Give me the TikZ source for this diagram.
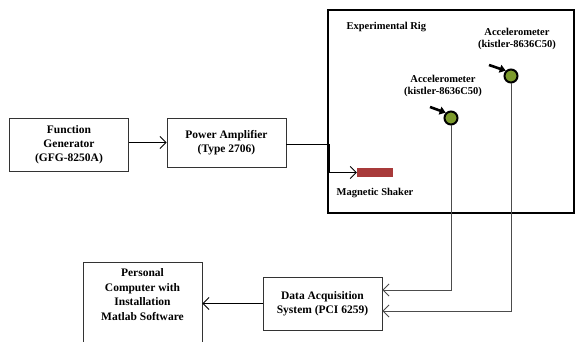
\documentclass[tikz,border=0pt]{standalone}
\usepackage{fontspec}
\setmainfont{Liberation Serif}
\usepackage{xcolor}
\usetikzlibrary{arrows.meta,positioning}

\definecolor{shakerred}{HTML}{A83A3A}
\definecolor{sensorgreen}{HTML}{7D9B2D}

\begin{document}
\begin{tikzpicture}[
  x=1pt, y=1pt,
  box/.style={rectangle, draw=black!80, line width=0.9pt, minimum width=119pt, align=center, font=\bfseries\fontsize{11.5}{14}\selectfont},
  lbl/.style={align=center, font=\bfseries\fontsize{10.5}{12.5}\selectfont},
  arr/.style={-{Straight Barb[length=6pt, width=12pt]}, line width=0.8pt},
  sensor/.style={circle, draw=black, line width=2pt, fill=sensorgreen, minimum size=13pt, inner sep=0pt},
  pointer/.style={-{Triangle[length=6pt, width=8pt]}, line width=2.6pt},
]
  \useasboundingbox (0,0) rectangle (576,342);
  \node[box, minimum height=53pt] (fgen) at (69,197.5) {Function\\Generator\\(GFG-8250A)};
  \node[box, minimum height=49pt] (amp) at (226.5,199.5) {Power Amplifier\\(Type 2706)};
  \node[rectangle, draw, line width=2.8pt, minimum width=246pt, minimum height=203pt] (rig) at (451,230.5) {};
  \node[lbl, anchor=west] (riglbl) at (343,315) {Experimental Rig};
  \node[rectangle, fill=shakerred, minimum width=36pt, minimum height=9pt, inner sep=0pt] (shaker) at (375,169.5) {};
  \node[lbl] (shakerlbl) at (375,149) {Magnetic Shaker};
  \node[sensor] (acc1) at (451,224) {};
  \node[sensor] (acc2) at (511,266) {};
  \node[lbl] (acc1lbl) at (443,256) {Accelerometer\\(kistler-8636C50)};
  \node[lbl] (acc2lbl) at (517,303) {Accelerometer\\(kistler-8636C50)};
  \node[box, minimum height=53pt] (daq) at (322.5,38.5) {Data Acquisition\\System (PCI 6259)};
  \node[box, minimum height=100pt, anchor=north] (pc) at (142.5,80) {};
  \node[lbl, font=\bfseries\fontsize{11.5}{14.5}\selectfont, below=3pt of pc.north] (pctext) {Personal\\Computer with\\Installation\\Matlab Software};

  \draw[arr] (fgen.east |- amp.west) -- (amp.west);
  \draw[arr] ([yshift=-2pt]amp.east) -- ++(43,0) |- (shaker.west);
  \draw[pointer] ([shift={(-21,11)}]acc1.center) -- (acc1.north west);
  \draw[pointer] ([shift={(-22,11)}]acc2.center) -- (acc2.north west);
  \draw[arr, black!70] (acc1.south) |- ([yshift=13.5pt]daq.east);
  \draw[arr, black!70] (acc2.south) |- ([yshift=-7.5pt]daq.east);
  \draw[arr] (daq.west) -- (pc.east |- daq.west);
\end{tikzpicture}
\end{document}
